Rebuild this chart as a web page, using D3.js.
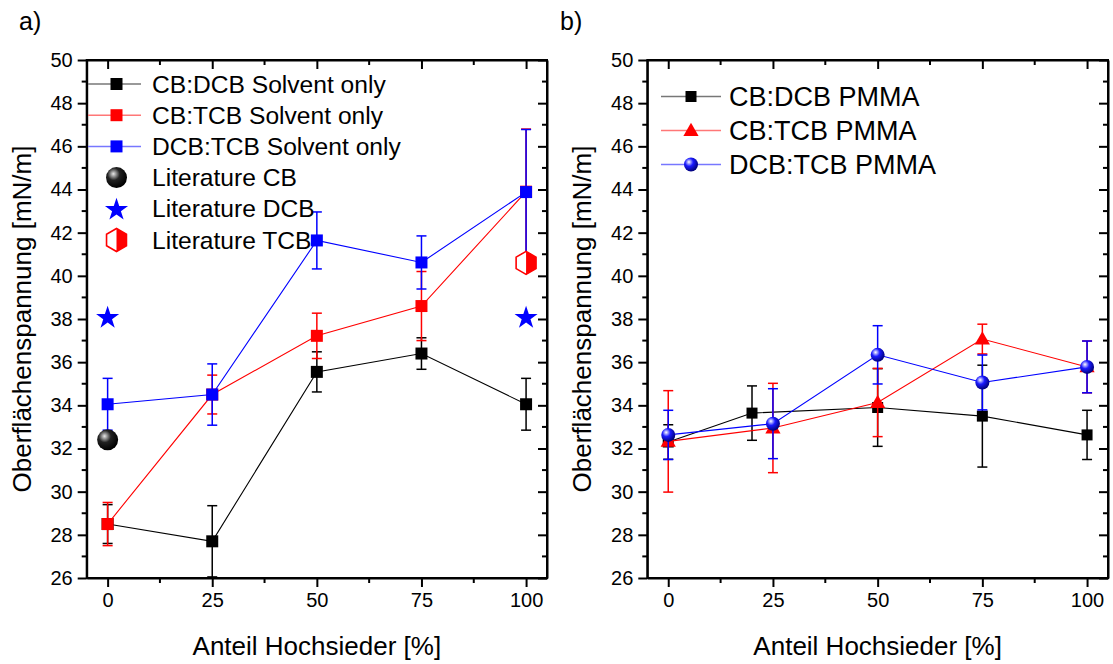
<!DOCTYPE html>
<html><head><meta charset="utf-8">
<script src="https://cdn.jsdelivr.net/npm/d3@7"></script>
<style>
body{margin:0;background:#fff;}
text{font-family:"Liberation Sans",Arial,sans-serif;fill:#000;}
</style></head>
<body><svg id="c" width="1113" height="664"></svg>
<script>
// ---------- data ----------
const xTicks = [0, 25, 50, 75, 100];
const yTicks = [26, 28, 30, 32, 34, 36, 38, 40, 42, 44, 46, 48, 50];

// panel a
const xSolv = [0, 25, 50, 75, 100];
const cbDcbSolv = [28.5, 27.7, 35.55, 36.4, 34.05];
const cbDcbSolvErr = [0.9, 1.65, 0.93, 0.73, 1.2];
const cbTcbSolv = [28.5, 34.5, 37.22, 38.6, 43.9];
const cbTcbSolvErr = [1.0, 0.9, 1.05, 1.6, 2.9];
const dcbTcbSolv = [34.05, 34.5, 41.64, 40.62, 43.88];
const dcbTcbSolvErr = [1.2, 1.42, 1.32, 1.23, 2.9];
const litCB = [[0, 32.4]];
const litDCB = [[0, 38.1], [100, 38.1]];
const litTCB = [[100, 40.6]];

// panel b
const xCbDcbPmma = [0, 20, 50, 75, 100];
const cbDcbPmma = [32.3, 33.64, 33.9, 33.5, 32.63];
const cbDcbPmmaErr = [0.8, 1.26, 1.8, 2.36, 1.14];
const xPmma = [0, 25, 50, 75, 100];
const cbTcbPmma = [32.33, 32.95, 34.13, 37.07, 35.78];
const cbTcbPmmaErr = [2.35, 2.07, 1.58, 0.69, 1.2];
const dcbTcbPmma = [32.63, 33.15, 36.34, 35.06, 35.78];
const dcbTcbPmmaErr = [1.14, 1.62, 1.35, 1.27, 1.2];

const legendA = ["CB:DCB Solvent only", "CB:TCB Solvent only", "DCB:TCB Solvent only",
                 "Literature CB", "Literature DCB", "Literature TCB"];
const legendB = ["CB:DCB PMMA", "CB:TCB PMMA", "DCB:TCB PMMA"];
const xTitle = "Anteil Hochsieder [%]";
const yTitle = "Oberflächenspannung [mN/m]";

// ---------- drawing ----------
const svg = d3.select("#c");
const defs = svg.append("defs");
function sphereGrad(id, c0, c1, c2) {
  const g = defs.append("radialGradient").attr("id", id)
    .attr("cx", "38%").attr("cy", "35%").attr("r", "65%").attr("fx", "35%").attr("fy", "32%");
  g.append("stop").attr("offset", "0%").attr("stop-color", c0);
  g.append("stop").attr("offset", "45%").attr("stop-color", c1);
  g.append("stop").attr("offset", "100%").attr("stop-color", c2);
}
sphereGrad("gBlue", "#ffffff", "#1a1aff", "#00007a");
sphereGrad("gBlack", "#e8e8e8", "#222222", "#000000");

function makePanel(L, R, T, B) {
  const x = d3.scaleLinear().domain([-5, 105]).range([L, R]);
  const y = d3.scaleLinear().domain([26, 50]).range([B, T]);
  const g = svg.append("g");
  const minorX = [12.5, 37.5, 62.5, 87.5];
  const minorY = d3.range(27, 50, 2);
  // bottom axis
  const bx = d3.axisBottom(x).tickValues(xTicks).tickSize(9).tickSizeOuter(0).tickPadding(6);
  const ga = g.append("g").attr("transform", `translate(0,${B})`).call(bx);
  ga.append("g").selectAll("line").data(minorX).join("line")
    .attr("x1", d => x(d)).attr("x2", d => x(d)).attr("y1", 0).attr("y2", 5);
  // top axis (inward ticks)
  const gt = g.append("g").attr("transform", `translate(0,${T})`)
    .call(d3.axisBottom(x).tickValues(xTicks).tickSize(9).tickSizeOuter(0).tickFormat(""));
  gt.append("g").selectAll("line").data(minorX).join("line")
    .attr("x1", d => x(d)).attr("x2", d => x(d)).attr("y1", 0).attr("y2", 5);
  // left axis
  const gl = g.append("g").attr("transform", `translate(${L},0)`)
    .call(d3.axisLeft(y).tickValues(yTicks).tickSize(9).tickSizeOuter(0).tickPadding(5));
  gl.append("g").selectAll("line").data(minorY).join("line")
    .attr("y1", d => y(d)).attr("y2", d => y(d)).attr("x1", 0).attr("x2", -5);
  // right axis (inward)
  const gr = g.append("g").attr("transform", `translate(${R},0)`)
    .call(d3.axisRight(y).tickValues(yTicks).tickSize(-9).tickSizeOuter(0).tickFormat(""));
  gr.append("g").selectAll("line").data(minorY).join("line")
    .attr("y1", d => y(d)).attr("y2", d => y(d)).attr("x1", 0).attr("x2", -5);
  g.selectAll(".domain").attr("stroke", "#000").attr("stroke-width", 2);
  g.selectAll("line").attr("stroke", "#000").attr("stroke-width", 2);
  g.selectAll(".tick text").style("font-size", "20px").style("font-family", "Liberation Sans, Arial, sans-serif");
  // frame
  g.append("rect").attr("x", L).attr("y", T).attr("width", R - L).attr("height", B - T)
    .attr("fill", "none").attr("stroke", "#000").attr("stroke-width", 2);
  // titles
  g.append("text").attr("x", (L + R) / 2).attr("y", 655).attr("text-anchor", "middle")
    .style("font-size", "26px").text(xTitle);
  g.append("text").attr("transform", `translate(${L - 56},${(T + B) / 2}) rotate(-90)`)
    .attr("text-anchor", "middle").style("font-size", "26px").text(yTitle);
  return {x, y, g};
}

function series(P, xs, ys, es, color, marker) {
  const pts = xs.map((v, i) => ({x: v, y: ys[i], e: es[i]}));
  const grp = P.g.append("g");
  grp.append("path").datum(pts)
    .attr("d", d3.line().x(d => P.x(d.x)).y(d => P.y(d.y)))
    .attr("fill", "none").attr("stroke", color).attr("stroke-width", 1.1);
  const eb = grp.append("g").attr("stroke", color).attr("stroke-width", 1.5);
  pts.forEach(d => {
    const cx = P.x(d.x), y1 = P.y(d.y + d.e), y0 = P.y(d.y - d.e);
    eb.append("line").attr("x1", cx).attr("x2", cx).attr("y1", y1).attr("y2", y0);
    eb.append("line").attr("x1", cx - 5).attr("x2", cx + 5).attr("y1", y1).attr("y2", y1);
    eb.append("line").attr("x1", cx - 5).attr("x2", cx + 5).attr("y1", y0).attr("y2", y0);
  });
  pts.forEach(d => marker(grp, P.x(d.x), P.y(d.y)));
}

const square = (color, s) => (g, cx, cy) =>
  g.append("path").attr("d", d3.symbol(d3.symbolSquare, s)()).attr("fill", color)
    .attr("transform", `translate(${cx},${cy})`);
const triangle = (color) => (g, cx, cy) =>
  g.append("path").attr("d", d3.symbol(d3.symbolTriangle, 100)()).attr("fill", color)
    .attr("transform", `translate(${cx},${cy + 1})`);
const sphere = (grad, r) => (g, cx, cy) =>
  g.append("circle").attr("cx", cx).attr("cy", cy).attr("r", r).attr("fill", `url(#${grad})`);
const star = (color) => (g, cx, cy) =>
  g.append("path").attr("d", d3.symbol(d3.symbolStar, 165)()).attr("fill", color)
    .attr("transform", `translate(${cx},${cy + 1})`);
const hexagon = (color) => (g, cx, cy) => {
  const r = 11.5, pts = d3.range(6).map(i => {
    const a = Math.PI / 2 + i * Math.PI / 3;
    return [cx + r * Math.cos(a), cy - r * Math.sin(a)];
  });
  g.append("polygon").attr("points", pts.map(p => p.join(",")).join(" "))
    .attr("fill", "#fff").attr("stroke", color).attr("stroke-width", 1.6);
  const half = [pts[0], pts[5], pts[4], pts[3]];
  g.append("polygon").attr("points", half.map(p => p.join(",")).join(" ")).attr("fill", color);
};

// ---------- panel a ----------
const A = makePanel(86.7, 547, 60, 578);
series(A, xSolv, cbDcbSolv, cbDcbSolvErr, "#000", square("#000", 144));
series(A, xSolv, cbTcbSolv, cbTcbSolvErr, "#ff0000", square("#ff0000", 144));
series(A, xSolv, dcbTcbSolv, dcbTcbSolvErr, "#0000ff", square("#0000ff", 144));
litCB.forEach(p => sphere("gBlack", 10.5)(A.g, A.x(p[0]), A.y(p[1])));
litDCB.forEach(p => star("#0000ff")(A.g, A.x(p[0]), A.y(p[1])));
litTCB.forEach(p => hexagon("#ff0000")(A.g, A.x(p[0]), A.y(p[1])));

// legend a
const legA = svg.append("g");
const legAColors = ["#777", "#ff7777", "#7777ff"];
const legAMarkers = [square("#000", 144), square("#ff0000", 144), square("#0000ff", 144),
                     sphere("gBlack", 10.5), star("#0000ff"), hexagon("#ff0000")];
legendA.forEach((t, i) => {
  const cy = 84 + i * 31.2;
  if (i < 3) legA.append("line").attr("x1", 88).attr("x2", 141).attr("y1", cy).attr("y2", cy)
    .attr("stroke", legAColors[i]).attr("stroke-width", 1.5);
  legAMarkers[i](legA, 116.5, cy);
  legA.append("text").attr("x", 152).attr("y", cy + 8.5).style("font-size", "24.6px").text(t);
});

// ---------- panel b ----------
const Bp = makePanel(647.3, 1108, 60, 578);
series(Bp, xCbDcbPmma, cbDcbPmma, cbDcbPmmaErr, "#000", square("#000", 121));
series(Bp, xPmma, cbTcbPmma, cbTcbPmmaErr, "#ff0000", triangle("#ff0000"));
series(Bp, xPmma, dcbTcbPmma, dcbTcbPmmaErr, "#0000ff", sphere("gBlue", 7));

const legB = svg.append("g");
const legBMarkers = [square("#000", 121), triangle("#ff0000"), sphere("gBlue", 7)];
legendB.forEach((t, i) => {
  const cy = 96.5 + i * 34;
  legB.append("line").attr("x1", 661).attr("x2", 721).attr("y1", cy).attr("y2", cy)
    .attr("stroke", legAColors[i]).attr("stroke-width", 1.5);
  legBMarkers[i](legB, 691, cy);
  legB.append("text").attr("x", 729).attr("y", cy + 9).style("font-size", "27px").text(t);
});

// panel labels
svg.append("text").attr("x", 19).attr("y", 30).style("font-size", "25px").text("a)");
svg.append("text").attr("x", 560).attr("y", 30).style("font-size", "25px").text("b)");
</script></body></html>
